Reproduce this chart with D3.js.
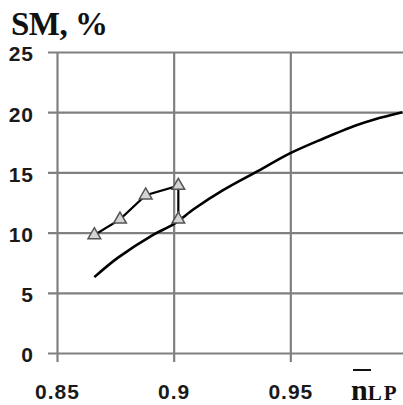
<!DOCTYPE html>
<html>
<head>
<meta charset="utf-8">
<script src="https://cdn.jsdelivr.net/npm/d3@7"></script>
<style>
  body { margin: 0; background: #fff; }
  svg { display: block; }
</style>
</head>
<body>
<svg id="Vis" width="403" height="405"></svg>
<script>
// chart values
var xTicks = [0.85, 0.9, 0.95];
var yTicks = [0, 5, 10, 15, 20, 25];

var curveX = [0.866, 0.876, 0.891, 0.900, 0.909, 0.921, 0.936, 0.950, 0.964, 0.978, 0.986, 0.998];
var curveY = [6.3, 7.9, 9.8, 10.7, 12.0, 13.5, 15.1, 16.6, 17.8, 18.9, 19.4, 20.0];

var markX = [0.866, 0.877, 0.888, 0.902, 0.902];
var markY = [9.8, 11.1, 13.1, 13.9, 11.1];

var gridColor = "#808080";

var svg = d3.select("#Vis");

var x = d3.scaleLinear().domain([0.85, 1.0]).range([57, 407]);
var y = d3.scaleLinear().domain([0, 25]).range([353, 52]);

// horizontal grid + y labels
var yAxis = svg.append("g")
   .attr("transform", "translate(48,0)")
   .call(d3.axisLeft(y).tickValues(yTicks).tickSize(-(403 - 48)).tickPadding(14));

// vertical grid + x labels
var xAxis = svg.append("g")
   .attr("transform", "translate(0,362)")
   .call(d3.axisBottom(x).tickValues(xTicks).tickSize(-(362 - 52)).tickPadding(22)
           .tickFormat(function(d){ return String(d); }));

[yAxis, xAxis].forEach(function(ax){
  ax.select(".domain").remove();
  ax.selectAll("line").attr("stroke", gridColor).attr("stroke-width", 2.2);
  ax.selectAll("text")
    .attr("fill", "#1a1a1a")
    .style("font-family", "'Liberation Sans', Arial, sans-serif")
    .style("font-weight", "bold")
    .style("font-size", "21px")
    .style("letter-spacing", "1px");
});
yAxis.selectAll("text").attr("dy", "0.42em");

// smooth curve
var curveData = curveX.map(function(d,i){ return {x:d, y:curveY[i]}; });
svg.append("path")
   .datum(curveData)
   .attr("fill", "none")
   .attr("stroke", "#000")
   .attr("stroke-width", 2.6)
   .attr("d", d3.line()
       .x(function(d){ return x(d.x); })
       .y(function(d){ return y(d.y); })
       .curve(d3.curveCatmullRom));

// line with triangle markers
var markData = markX.map(function(d,i){ return {x:d, y:markY[i]}; });
svg.append("path")
   .datum(markData)
   .attr("fill", "none")
   .attr("stroke", "#000")
   .attr("stroke-width", 2.2)
   .attr("d", d3.line()
       .x(function(d){ return x(d.x); })
       .y(function(d){ return y(d.y); }));

svg.selectAll(".mark")
   .data(markData)
   .enter()
   .append("path")
   .attr("class", "mark")
   .attr("transform", function(d){ return "translate(" + x(d.x) + "," + y(d.y) + ")"; })
   .attr("d", d3.symbol(d3.symbolTriangle, 70))
   .attr("fill", "#d4d4d4")
   .attr("stroke", "#555")
   .attr("stroke-width", 1.5);

// titles
svg.append("text")
   .attr("x", 11)
   .attr("y", 35)
   .style("font-family", "'Liberation Serif', 'Times New Roman', serif")
   .style("font-weight", "bold")
   .style("font-size", "33px")
   .style("letter-spacing", "-0.5px")
   .attr("fill", "#111")
   .text("SM, %");

svg.append("line")
   .attr("x1", 353).attr("x2", 371)
   .attr("y1", 370).attr("y2", 370)
   .attr("stroke", "#111")
   .attr("stroke-width", 2);

var xl = svg.append("text")
   .attr("x", 351)
   .attr("y", 400)
   .style("font-family", "'Liberation Serif', 'Times New Roman', serif")
   .style("font-weight", "bold")
   .attr("fill", "#111");
xl.append("tspan").style("font-size", "30px").text("n");
xl.append("tspan").style("font-size", "21px").style("letter-spacing", "2px").text("LP");
</script>
</body>
</html>
